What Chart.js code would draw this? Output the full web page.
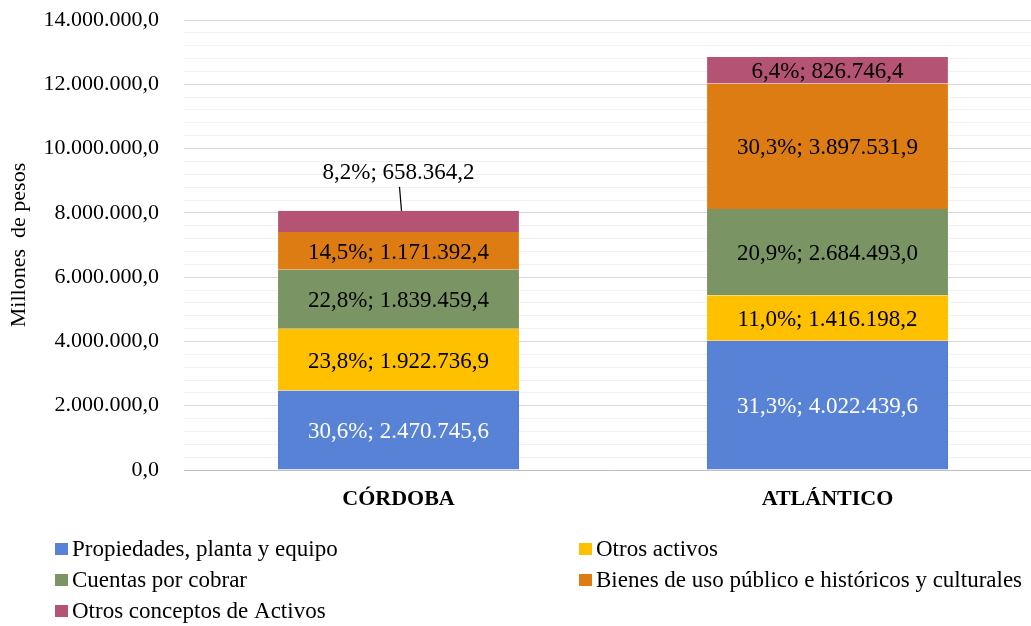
<!DOCTYPE html>
<html><head><meta charset="utf-8">
<script src="https://cdn.jsdelivr.net/npm/chart.js@4.4.0/dist/chart.umd.min.js"></script>
<style>
html,body{margin:0;padding:0;background:#fff;overflow:hidden;width:1031px;height:626px}
#wrap{position:relative;width:1042px;height:626px}
</style></head>
<body><div id="wrap"><canvas id="c" width="1042" height="626"></canvas></div>
<script>
const categories = ['CÓRDOBA', 'ATLÁNTICO'];
const seriesNames = ['Propiedades, planta y equipo', 'Otros activos', 'Cuentas por cobrar', 'Bienes de uso público e históricos y culturales', 'Otros conceptos de Activos'];
const propiedades = [2470745.6, 4022439.6];
const otrosActivos = [1922736.9, 1416198.2];
const cuentasPorCobrar = [1839459.4, 2684493.0];
const bienesUsoPublico = [1171392.4, 3897531.9];
const otrosConceptos = [658364.2, 826746.4];
const yAxisTitle = 'Millones  de pesos';
const yMax = 14000000;
const yMajorStep = 2000000;
const yMinorStep = 400000;

const seriesValues = [propiedades, otrosActivos, cuentasPorCobrar, bienesUsoPublico, otrosConceptos];
const seriesColors = ['#5882D6', '#FFC000', '#7A9563', '#DC7C12', '#B45373'];
const borderColors = ['#4A76CF', '#FFC000', '#7A9563', '#E08420', '#BA6080'];
const labelColors = ['#FFFFFF', '#000000', '#000000', '#000000', '#000000'];
const FONT = "'Liberation Serif', 'Times New Roman', serif";

function fmt(n) {
  const s = Math.abs(n).toFixed(1).split('.');
  const ip = s[0].replace(/\B(?=(\d{3})+(?!\d))/g, '.');
  return (n < 0 ? '-' : '') + ip + ',' + s[1];
}
const totals = categories.map((c, j) => seriesValues.reduce((a, s) => a + s[j], 0));

const labelPlugin = {
  id: 'segLabels',
  afterDatasetsDraw(chart) {
    const ctx = chart.ctx;
    ctx.save();
    ctx.font = '23px ' + FONT;
    ctx.textAlign = 'center';
    ctx.textBaseline = 'middle';
    chart.data.datasets.forEach((ds, i) => {
      const meta = chart.getDatasetMeta(i);
      meta.data.forEach((bar, j) => {
        const v = ds.data[j];
        const pct = (v / totals[j] * 100).toFixed(1).replace('.', ',');
        const txt = pct + '%; ' + fmt(v);
        const h = bar.base - bar.y;
        if (h < 24) {
          const ly = bar.y - 38;
          ctx.fillStyle = '#000';
          ctx.fillText(txt, bar.x, ly);
          ctx.strokeStyle = '#000';
          ctx.lineWidth = 1.2;
          ctx.beginPath();
          ctx.moveTo(bar.x + 1, ly + 14);
          ctx.lineTo(bar.x + 3, bar.y);
          ctx.stroke();
        } else {
          ctx.fillStyle = labelColors[i];
          ctx.fillText(txt, bar.x, (bar.y + bar.base) / 2 + 2);
        }
      });
    });
    ctx.restore();
  }
};

const legendPlugin = {
  id: 'gridLegend',
  afterDraw(chart) {
    const ctx = chart.ctx;
    ctx.save();
    ctx.font = '23px ' + FONT;
    ctx.textBaseline = 'middle';
    ctx.textAlign = 'left';
    const cols = [55, 579];
    const rows = [549, 580, 611];
    chart.data.datasets.forEach((ds, k) => {
      const cx = cols[k % 2];
      const cy = rows[Math.floor(k / 2)];
      ctx.fillStyle = ds.backgroundColor;
      ctx.fillRect(cx, cy - 6, 13, 12);
      ctx.fillStyle = '#000';
      ctx.fillText(ds.label, cx + 17, cy + 1);
    });
    ctx.restore();
  }
};

new Chart(document.getElementById('c'), {
  type: 'bar',
  data: {
    labels: categories,
    datasets: seriesNames.map((name, i) => ({
      label: name,
      data: seriesValues[i],
      backgroundColor: seriesColors[i],
      borderColor: borderColors[i],
      borderWidth: { left: 1, right: 1, top: 0, bottom: 0 },
      borderSkipped: false,
      barPercentage: 0.562,
      categoryPercentage: 1
    }))
  },
  options: {
    responsive: false,
    animation: false,
    layout: { padding: { top: 20, bottom: 106, left: 0, right: 0 } },
    plugins: { legend: { display: false }, tooltip: { enabled: false } },
    scales: {
      x: {
        stacked: true,
        grid: { display: false, drawTicks: false },
        border: { display: true, color: '#BFBFBF', width: 1 },
        ticks: { color: '#000', font: { family: FONT, size: 22, weight: 'bold' }, padding: 16 },
        afterFit: s => { s.height = 50; s.paddingLeft = 0; s.paddingRight = 0; }
      },
      y: {
        stacked: true,
        min: 0,
        max: yMax,
        border: { display: false },
        grid: {
          drawTicks: false,
          color: c => (c.tick && c.tick.value % yMajorStep === 0) ? '#D9D9D9' : '#F2F2F2',
          lineWidth: 1
        },
        ticks: {
          stepSize: yMinorStep,
          autoSkip: false,
          color: '#000',
          padding: 25,
          font: { family: FONT, size: 22 },
          callback: v => (v % yMajorStep === 0) ? fmt(v) : ''
        },
        title: { display: true, text: yAxisTitle, color: '#000', font: { family: FONT, size: 22 }, padding: { top: 6, bottom: 0 } },
        afterFit: s => { s.width = 184; s.paddingTop = 0; s.paddingBottom = 0; }
      }
    }
  },
  plugins: [labelPlugin, legendPlugin]
});
</script>
</body></html>
